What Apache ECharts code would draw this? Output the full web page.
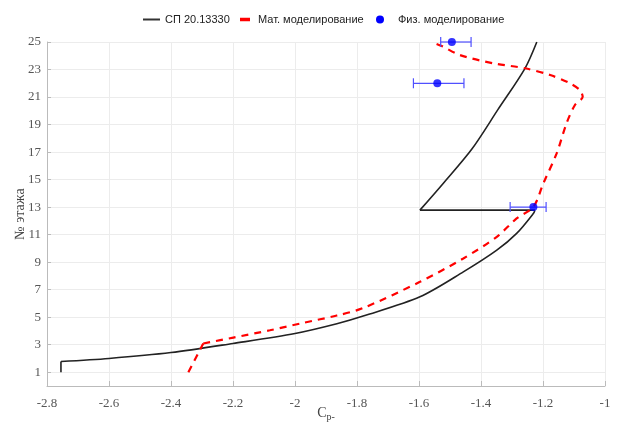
<!DOCTYPE html>
<html>
<head>
<meta charset="utf-8">
<script src="https://cdn.jsdelivr.net/npm/echarts@6/dist/echarts.min.js"></script>
<style>html,body{margin:0;padding:0;background:#fff}#c{width:628px;height:427px}</style>
</head>
<body>
<div id="c"></div>
<script>
// SP 20.13330 curve, split into pieces
const spLower = [[-2.755,1.0],[-2.755,1.78]];
const spCurve = [[-2.755,1.78],[-2.6,2.0],[-2.4,2.43],[-2.2,3.09],[-2.0,3.81],[-1.865,4.52],[-1.78,5.08],[-1.597,6.48],[-1.457,8.29],[-1.349,9.87],[-1.285,11.09],[-1.231,12.54],[-1.226,12.78]];
const spJump = [[-1.226,12.78],[-1.597,12.78]];
const spUpper = [[-1.597,12.78],[-1.522,14.72],[-1.43,17.2],[-1.345,20.1],[-1.258,23.09],[-1.22,25.0]];
// Mathematical modelling
const matStart = [[-2.344,1.0],[-2.296,3.09]];
const matCurve = [[-2.296,3.09],[-2.199,3.52],[-2.081,4.05],[-1.973,4.59],[-1.865,5.12],[-1.781,5.66],[-1.597,7.57],[-1.457,9.27],[-1.349,10.84],[-1.285,12.18],[-1.231,13.02],[-1.199,14.72],[-1.156,16.9],[-1.124,19.09],[-1.097,20.42],[-1.072,21.02],[-1.081,21.5],[-1.113,22.0],[-1.177,22.6],[-1.258,23.09],[-1.36,23.45],[-1.468,24.05],[-1.527,24.71],[-1.56,25.0]];
// Physical modelling: [x, floor, xLow, xHigh]
const phys = [[-1.494,25,-1.530,-1.432],[-1.541,22,-1.618,-1.455],[-1.231,13,-1.306,-1.190]];
const xTicks = [-2.8,-1];
const yTicks = [1,3,5,7,9,11,13,15,17,19,21,23,25];

const chart = echarts.init(document.getElementById('c'));
const NAME_SP = 'СП 20.13330', NAME_MAT = 'Мат. моделирование', NAME_PHYS = 'Физ. моделирование';
const blackLine = {color:'#222', width:1.6};
const redLine = {color:'#ff0000', width:2.2, type:[7,6]};
const legFont = {fontFamily:'Liberation Sans, Arial, sans-serif', fontSize:11, color:'#222'};
chart.setOption({
  animation:false,
  legend:[
    {top:9, left:138, itemWidth:17, itemHeight:2, textStyle:Object.assign({}, legFont), selectedMode:false,
      data:[{name:NAME_SP, icon:'rect', itemStyle:{color:'#333'}}]},
    {top:9, left:235, itemWidth:10, itemHeight:3.5, textStyle:Object.assign({padding:[0,0,0,3]}, legFont), selectedMode:false,
      data:[{name:NAME_MAT, icon:'rect', itemStyle:{color:'#ff0000'}}]},
    {top:9, left:371, itemWidth:8, itemHeight:8, textStyle:Object.assign({padding:[0,0,0,9]}, legFont), selectedMode:false,
      data:[{name:NAME_PHYS, icon:'circle', itemStyle:{color:'#0000ff'}}]}
  ],
  grid:{left:47, right:23, top:42, bottom:41, outerBoundsMode:'none', containLabel:false},
  xAxis:{
    type:'value', min:xTicks[0], max:xTicks[1], interval:0.2,
    name:'{a|C}{b|p-}', nameLocation:'middle', nameGap:18, nameMoveOverlap:false,
    nameTextStyle:{rich:{a:{fontFamily:'Liberation Serif, serif', fontSize:14, color:'#444'}, b:{fontFamily:'Liberation Serif, serif', fontSize:10, color:'#444', padding:[8,0,0,0]}}},
    axisLine:{lineStyle:{color:'#bbb'}},
    axisTick:{inside:true, length:5, lineStyle:{color:'#bbb'}},
    axisLabel:{fontFamily:'Liberation Serif, serif', fontSize:13, color:'#555', margin:11,
      formatter:v=>String(Math.round(v*10)/10)},
    splitLine:{lineStyle:{color:'#ececec'}}
  },
  yAxis:{
    type:'value', min:0, max:25,
    name:'№ этажа', nameLocation:'middle', nameGap:20, nameMoveOverlap:false,
    nameTextStyle:{fontFamily:'Liberation Serif, serif', fontSize:14, color:'#444'},
    axisLine:{show:true, lineStyle:{color:'#bbb'}},
    axisTick:{show:true, inside:true, length:4, customValues:yTicks, lineStyle:{color:'#bbb'}},
    axisLabel:{fontFamily:'Liberation Serif, serif', fontSize:13, color:'#555', margin:6, customValues:yTicks},
    splitLine:{lineStyle:{color:'#ececec'}}
  },
  series:[
    {name:NAME_SP, type:'line', data:spLower, showSymbol:false, lineStyle:blackLine, itemStyle:{color:'#222'}},
    {name:NAME_SP, type:'line', data:spCurve, smooth:0.3, showSymbol:false, lineStyle:blackLine, itemStyle:{color:'#222'}},
    {name:NAME_SP, type:'line', data:spJump, showSymbol:false, lineStyle:blackLine, itemStyle:{color:'#222'}},
    {name:NAME_SP, type:'line', data:spUpper, smooth:0.3, showSymbol:false, lineStyle:blackLine, itemStyle:{color:'#222'}},
    {name:NAME_MAT, type:'line', data:matStart, showSymbol:false, lineStyle:redLine, itemStyle:{color:'#ff0000'}},
    {name:NAME_MAT, type:'line', data:matCurve, smooth:0.3, showSymbol:false, lineStyle:redLine, itemStyle:{color:'#ff0000'}},
    {name:NAME_PHYS, type:'custom', data:phys, z:5,
      renderItem:function(params, api){
        const y = api.value(1);
        const p1 = api.coord([api.value(2), y]);
        const p2 = api.coord([api.value(3), y]);
        const st = {stroke:'#5050ff', lineWidth:1.2};
        return {type:'group', children:[
          {type:'line', shape:{x1:p1[0], y1:p1[1], x2:p2[0], y2:p2[1]}, style:st},
          {type:'line', shape:{x1:p1[0], y1:p1[1]-5, x2:p1[0], y2:p1[1]+5}, style:st},
          {type:'line', shape:{x1:p2[0], y1:p2[1]-5, x2:p2[0], y2:p2[1]+5}, style:st}
        ]};
      },
      encode:{x:[0,2,3], y:1}, itemStyle:{color:'#0000ff'}},
    {name:NAME_PHYS, type:'scatter', data:phys.map(d=>[d[0],d[1]]), symbolSize:8, z:6, itemStyle:{color:'#0000ff'}}
  ]
});
</script>
</body>
</html>
